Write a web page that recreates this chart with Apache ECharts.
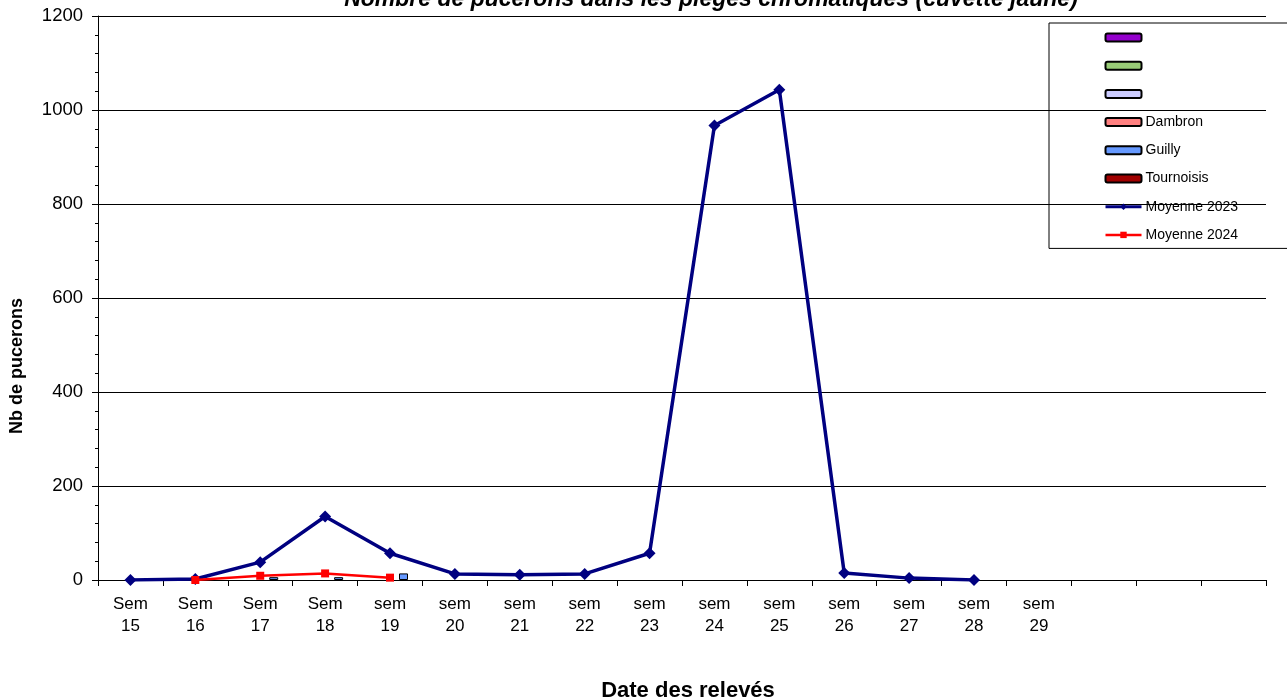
<!DOCTYPE html>
<html>
<head>
<meta charset="utf-8">
<script src="https://cdn.jsdelivr.net/npm/echarts@6/dist/echarts.min.js"></script>
<style>
  html, body { margin: 0; padding: 0; background: #fff; }
  #main { width: 1287px; height: 698px; }
</style>
</head>
<body>
<div id="main"></div>
<script>
var weeks = ['Sem\n15', 'Sem\n16', 'Sem\n17', 'Sem\n18', 'sem\n19', 'sem\n20', 'sem\n21', 'sem\n22',
             'sem\n23', 'sem\n24', 'sem\n25', 'sem\n26', 'sem\n27', 'sem\n28', 'sem\n29', '', '', ''];

// series values
var vide1 = [];
var vide2 = [];
var vide3 = [];
var dambron = [];
var guilly = [null, null, 6, 6, 14];
var tournoisis = [];
var moy2023 = [0, 2, 38, 135, 57, 13, 11, 13, 57, 967, 1043, 15, 4, 0];
var moy2024 = [null, 0, 9, 14, 5];

var yTicks = { min: 0, max: 1200, interval: 200 };

var myChart = echarts.init(document.getElementById('main'));

function barSerie(name, data, color) {
    return {
        name: name,
        type: 'bar',
        data: data,
        barWidth: 9,
        barGap: '0%',
        itemStyle: { color: color, borderColor: '#000', borderWidth: 1 }
    };
}

myChart.setOption({
    animation: false,
    title: {
        text: 'Nombre de pucerons dans les pièges chromatiques (cuvette jaune)',
        left: 706,
        textAlign: 'center',
        top: -17,
        textStyle: { fontFamily: 'Liberation Sans', fontSize: 23, fontWeight: 'bold', fontStyle: 'italic', color: '#000' }
    },
    legend: {
        orient: 'vertical',
        left: 1049,
        top: 23,
        padding: [6, 200, 5, 55],
        itemWidth: 36,
        itemHeight: 8,
        itemGap: 11.2,
        borderColor: '#000',
        borderWidth: 1,
        textStyle: { fontFamily: 'Liberation Sans', fontSize: 14, lineHeight: 17, color: '#000', padding: [0, 0, 0, -1] },
        data: [' ', '  ', '   ', 'Dambron', 'Guilly', 'Tournoisis',
            { name: 'Moyenne 2023', lineStyle: { width: 3 } },
            { name: 'Moyenne 2024', lineStyle: { width: 2.5 } }]
    },
    grid: { left: 98, right: 21, top: 16, bottom: 118, outerBoundsMode: 'none' },
    xAxis: {
        type: 'category',
        data: weeks,
        name: 'Date des relevés',
        nameLocation: 'middle',
        nameGap: 100,
        nameTextStyle: { fontFamily: 'Liberation Sans', fontSize: 22, fontWeight: 'bold', color: '#000', padding: [0, 0, 0, 12] },
        axisLine: { lineStyle: { color: '#000', width: 1 } },
        axisTick: { show: true, length: 6, lineStyle: { color: '#000' } },
        axisLabel: {
            fontFamily: 'Liberation Sans', fontSize: 17, color: '#000', margin: 13, lineHeight: 22, interval: 0
        }
    },
    yAxis: {
        type: 'value',
        min: yTicks.min,
        max: yTicks.max,
        interval: yTicks.interval,
        name: 'Nb de pucerons',
        nameLocation: 'middle',
        nameGap: 72,
        nameTextStyle: { fontFamily: 'Liberation Sans', fontSize: 18, fontWeight: 'bold', color: '#000', padding: [0, 136, 0, 0] },
        axisLine: { show: true, lineStyle: { color: '#000', width: 1 } },
        axisTick: { show: true, length: 6, lineStyle: { color: '#000' } },
        minorTick: { show: true, splitNumber: 5, length: 3, lineStyle: { color: '#000' } },
        splitLine: { show: true, lineStyle: { color: '#000', width: 1 } },
        axisLabel: {
            fontFamily: 'Liberation Sans', fontSize: 18.5, color: '#000', margin: 15,
            formatter: function (v) { return String(v); }
        }
    },
    series: [
        barSerie(' ', vide1, '#9400CC'),
        barSerie('  ', vide2, '#99CC77'),
        barSerie('   ', vide3, '#CCCCFF'),
        barSerie('Dambron', dambron, '#FF8080'),
        barSerie('Guilly', guilly, '#6699FF'),
        barSerie('Tournoisis', tournoisis, '#A00000'),
        {
            name: 'Moyenne 2023',
            type: 'line',
            data: moy2023,
            symbol: 'diamond',
            symbolSize: 12,
            lineStyle: { color: '#000080', width: 3.5 },
            itemStyle: { color: '#000080' },
            z: 5
        },
        {
            name: 'Moyenne 2024',
            type: 'line',
            data: moy2024,
            symbol: 'rect',
            symbolSize: 8,
            lineStyle: { color: '#FF0000', width: 2.5 },
            itemStyle: { color: '#FF0000' },
            z: 6
        }
    ]
});
</script>
</body>
</html>
